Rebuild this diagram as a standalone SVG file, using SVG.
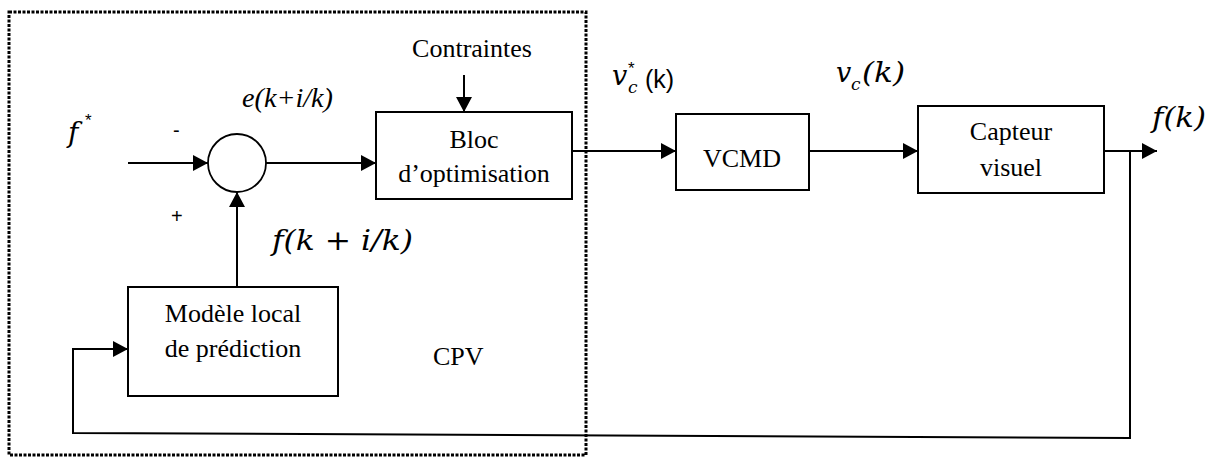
<svg xmlns="http://www.w3.org/2000/svg" width="1219" height="459" viewBox="0 0 1219 459">
<style>
.box{fill:#fff;stroke:#000;stroke-width:2}
.t{font-family:"Liberation Serif","Times New Roman",serif;font-size:26px;fill:#000}
.m{font-family:"DejaVu Serif","Liberation Serif",serif;font-style:italic;fill:#000}
.s{font-family:"Liberation Sans",Arial,sans-serif;fill:#000}
.c{fill:none;stroke:#000;stroke-width:2}
</style>
<defs>
<marker id="ah" markerUnits="userSpaceOnUse" markerWidth="15" markerHeight="16" refX="15" refY="8" orient="auto">
<path d="M0,0 L15,8 L0,16 z" fill="#000"/>
</marker>
</defs>
<rect id="cpv-frame" x="9" y="12" width="577" height="443" fill="none" stroke="#000" stroke-width="3" stroke-dasharray="3 1.5"/>
<g id="connectors">
<path class="c" d="M128,163 H208" marker-end="url(#ah)"/>
<path class="c" d="M266,163 H376" marker-end="url(#ah)"/>
<path class="c" d="M237,287 V192" marker-end="url(#ah)"/>
<path class="c" d="M464,75 V112" marker-end="url(#ah)"/>
<path class="c" d="M572,151 H676" marker-end="url(#ah)"/>
<path class="c" d="M809,151 H918" marker-end="url(#ah)"/>
<path class="c" d="M1104,151 H1157" marker-end="url(#ah)"/>
<path class="c" d="M1130,151 V438 L73,433 V349 H128" marker-end="url(#ah)"/>
</g>
<g id="sum">
<circle cx="237" cy="163" r="29" fill="#fff" stroke="#000" stroke-width="1.8"/>
</g>
<g id="bloc">
<rect class="box" x="376" y="112" width="196" height="87"/>
<text class="t" x="474" y="148" text-anchor="middle">Bloc</text>
<text class="t" x="474" y="182" text-anchor="middle">d’optimisation</text>
</g>
<g id="vcmd">
<rect class="box" x="676" y="114" width="133" height="76"/>
<text class="t" x="742" y="167" text-anchor="middle">VCMD</text>
</g>
<g id="capteur">
<rect class="box" x="918" y="106" width="186" height="87"/>
<text class="t" x="1011" y="140" text-anchor="middle">Capteur</text>
<text class="t" x="1011" y="176" text-anchor="middle">visuel</text>
</g>
<g id="modele">
<rect class="box" x="128" y="287" width="210" height="109"/>
<text class="t" x="233" y="322" text-anchor="middle">Modèle local</text>
<text class="t" x="233" y="357" text-anchor="middle">de prédiction</text>
</g>
<g id="labels">
<text class="t" x="472" y="57" text-anchor="middle" font-size="22">Contraintes</text>
<text class="t" x="433" y="365">CPV</text>
<text x="242" y="107" font-family="Liberation Serif,serif" font-style="italic" font-size="27" textLength="91" lengthAdjust="spacingAndGlyphs">e(k+i/k)</text>
<text class="m" x="68" y="142" font-size="28">f</text>
<text class="s" x="85" y="126" font-size="17">*</text>
<text class="s" x="173" y="137" font-size="20">-</text>
<text class="s" x="171" y="223" font-size="20">+</text>
<text class="m" x="272" y="250" font-size="27" textLength="141" lengthAdjust="spacingAndGlyphs">f(k + i/k)</text>
<text class="m" x="612" y="85" font-size="27">v</text>
<text class="m" x="628" y="93" font-size="17">c</text>
<text class="s" x="628" y="74" font-size="17">*</text>
<text class="s" x="645" y="88" font-size="25">(k)</text>
<text class="m" x="836" y="82" font-size="27">v</text>
<text class="m" x="851" y="90" font-size="17">c</text>
<text class="m" x="862" y="82" font-size="27" textLength="43" lengthAdjust="spacingAndGlyphs">(k)</text>
<text class="m" x="1152" y="127" font-size="27" textLength="54" lengthAdjust="spacingAndGlyphs">f(k)</text>
</g>
</svg>
